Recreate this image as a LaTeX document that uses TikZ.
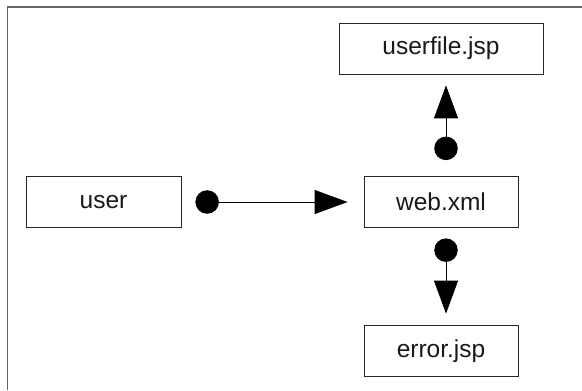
\documentclass[tikz,border=0pt]{standalone}
\usepackage{fontspec}
\setmainfont{Liberation Sans}
\usetikzlibrary{arrows.meta}
\tikzset{
  box/.style={draw=black!85, line width=0.8bp, inner sep=0pt, minimum height=51bp,
    font=\fontsize{24.5bp}{28bp}\selectfont, text=black!90},
  flow/.style={line width=1bp, draw=black,
    {Circle[length=23.5bp,width=23.5bp]}-{Triangle[length=33bp,width=24bp]}},
  frame/.style={draw=black!60, line width=1.5bp}
}
\begin{document}
\begin{tikzpicture}[x=1bp,y=-1bp]
\useasboundingbox (0,0) rectangle (582,390);
\draw[frame] (7.5,390) -- (7.5,7) -- (582,7);
\node[box, minimum width=155bp] (user) at (103.5,202) {user};
\node[box, minimum width=154bp] (web) at (441,202) {web.xml};
\node[box, minimum width=204bp] (userfile) at (441,48.5) {userfile.jsp};
\node[box, minimum width=154bp] (error) at (441,351) {error.jsp};
\draw[flow, shorten <=14bp, shorten >=16bp] (user.east) -- (web.west);
\draw[flow, shorten <=16bp, shorten >=11bp] ([xshift=5bp]web.north) -- ([xshift=5bp]userfile.south);
\draw[flow, shorten <=10.5bp, shorten >=11.5bp] ([xshift=5bp]web.south) -- ([xshift=5bp]error.north);
\end{tikzpicture}
\end{document}
